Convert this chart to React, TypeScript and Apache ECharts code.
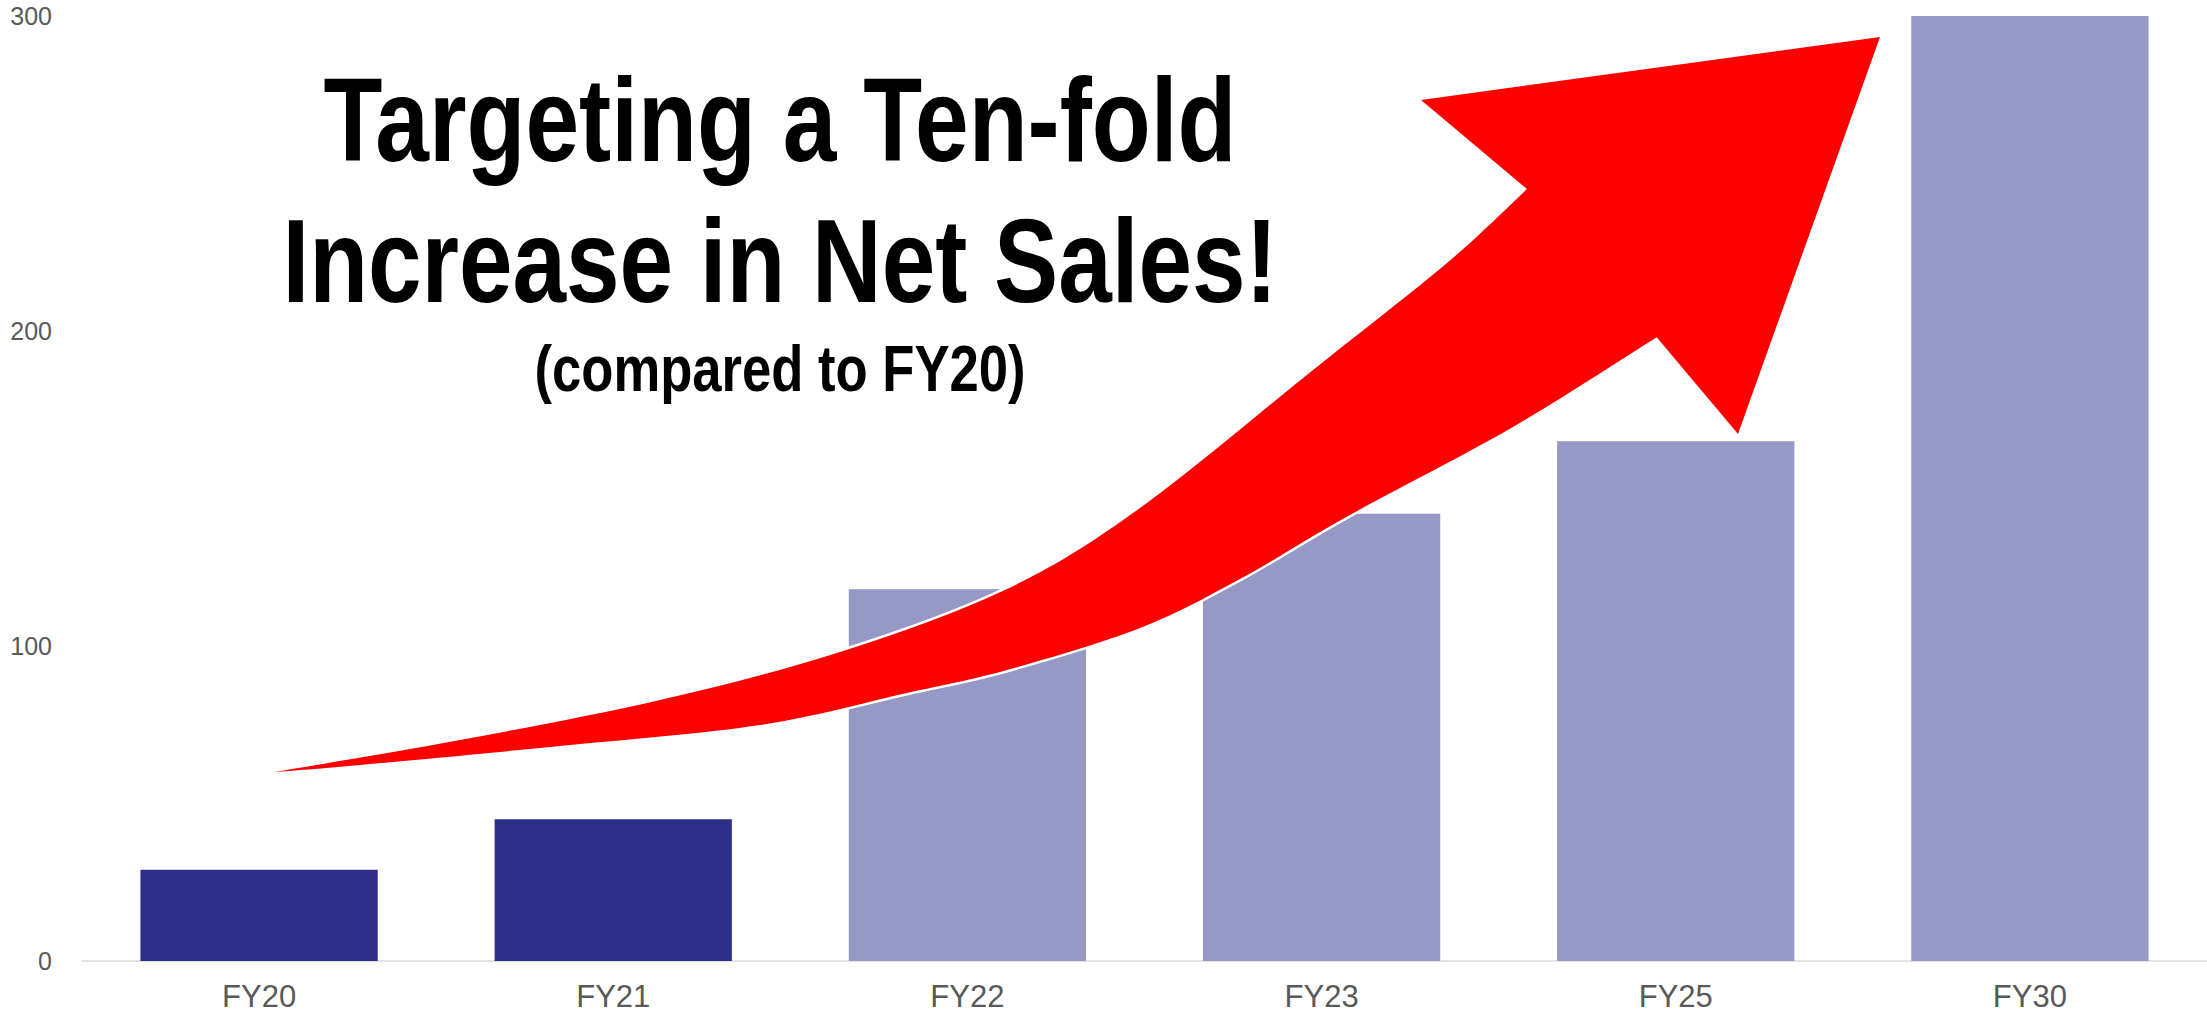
import React, { useEffect, useRef } from "react";
import * as echarts from "echarts";

const categories = ["FY20", "FY21", "FY22", "FY23", "FY25", "FY30"];
const netSales = [29, 45, 118, 142, 165, 300];
const isTarget = [false, false, true, true, true, true];
const yTicks = [0, 100, 200, 300];
const titleLines = ["Targeting a Ten-fold", "Increase in Net Sales!"];
const subTitle = "(compared to FY20)";

const ACTUAL_COLOR = "#2E2F88";
const TARGET_COLOR = "#9698C5";

// decorative arrow outline (page pixels)
const upperEdge: [number, number][] = [
  [272.7, 772.3], [460, 740], [660, 700], [840, 652], [1007, 589],
  [1140, 508], [1313, 370], [1447, 263], [1527, 189],
];
const head: [number, number][] = [[1421, 100], [1880, 37], [1738, 434], [1656.7, 337.3]];
const lowerEdge: [number, number][] = [
  [1656.7, 337.3], [1513.3, 426.7], [1346.7, 516.7], [1240, 579], [1140, 628],
  [1007, 670], [907, 693], [760, 725], [560, 746], [360, 765], [272.7, 772.3],
];

function smooth(pts: [number, number][]) {
  let d = "";
  for (let i = 0; i < pts.length - 1; i++) {
    const p0 = pts[Math.max(0, i - 1)];
    const p1 = pts[i];
    const p2 = pts[i + 1];
    const p3 = pts[Math.min(pts.length - 1, i + 2)];
    const c1x = p1[0] + (p2[0] - p0[0]) / 6;
    const c1y = p1[1] + (p2[1] - p0[1]) / 6;
    const c2x = p2[0] - (p3[0] - p1[0]) / 6;
    const c2y = p2[1] - (p3[1] - p1[1]) / 6;
    d += ` C ${c1x} ${c1y} ${c2x} ${c2y} ${p2[0]} ${p2[1]}`;
  }
  return d;
}

const arrowD =
  `M ${upperEdge[0][0]} ${upperEdge[0][1]}` +
  smooth(upperEdge) +
  head.map((p) => ` L ${p[0]} ${p[1]}`).join("") +
  smooth(lowerEdge) +
  " Z";

echarts.graphic.registerShape("bigArrow", echarts.graphic.extendPath(arrowD, {}) as any);

export default function App() {
  const ref = useRef<HTMLDivElement>(null);
  useEffect(() => {
    if (!ref.current) return;
    const chart = echarts.init(ref.current, undefined, { renderer: "svg" });
    const font = "'Liberation Sans', Arial, Helvetica, sans-serif";
    const titleText = (text: string, y: number, size: number, sx: number) => ({
      type: "text",
      x: 780,
      y,
      scaleX: sx,
      z: 110,
      style: {
        text,
        x: 0,
        y: 0,
        fontSize: size,
        fontWeight: "bold",
        fontFamily: font,
        fill: "#000000",
        textAlign: "center",
        textVerticalAlign: "middle",
      },
    });
    chart.setOption({
      animation: false,
      backgroundColor: "#ffffff",
      grid: {
        left: 82,
        right: 0,
        top: 16,
        bottom: 52,
        containLabel: false,
        outerBoundsMode: "none",
      },
      xAxis: {
        type: "category",
        data: categories,
        axisLine: { show: true, lineStyle: { color: "#D9D9D9", width: 1.5 } },
        axisTick: { show: false },
        axisLabel: { color: "#595959", fontSize: 31, fontFamily: font, margin: 20 },
      },
      yAxis: {
        type: "value",
        min: yTicks[0],
        max: yTicks[yTicks.length - 1],
        interval: 100,
        axisLine: { show: false },
        axisTick: { show: false },
        splitLine: { show: false },
        axisLabel: { color: "#595959", fontSize: 25, fontFamily: font, margin: 30 },
      },
      series: [
        {
          type: "bar",
          barCategoryGap: "33%",
          data: netSales.map((v, i) => ({
            value: v,
            itemStyle: { color: isTarget[i] ? TARGET_COLOR : ACTUAL_COLOR },
          })),
        },
      ],
      graphic: [
        {
          type: "bigArrow",
          x: 0,
          y: 0,
          z: 100,
          style: { fill: "#FF0000", stroke: "#FFFFFF", lineWidth: 5, lineJoin: "round" },
        },
        {
          type: "bigArrow",
          x: 0,
          y: 0,
          z: 101,
          style: { fill: "#FF0000", stroke: null, lineWidth: 0 },
        },
        titleText(titleLines[0], 120, 119, 0.811),
        titleText(titleLines[1], 261, 119, 0.809),
        titleText(subTitle, 369, 64, 0.822),
      ],
    });
    return () => chart.dispose();
  }, []);
  return (
    <div
      ref={ref}
      style={{ position: "fixed", left: 0, top: 0, width: 2207, height: 1013, background: "#fff" }}
    />
  );
}
